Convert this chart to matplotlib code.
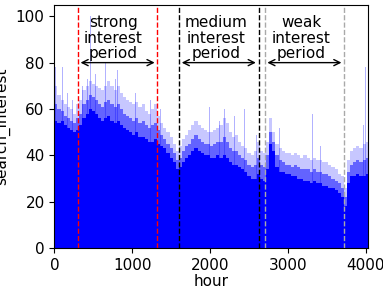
import numpy as np
import matplotlib
matplotlib.use('agg')
from matplotlib import pyplot as plt

# 40-hour bins starting at hour 0
bin_width = 40
peak = [70, 66, 64, 62, 61, 60, 58, 62, 64, 68, 70, 72, 71, 70, 69, 68, 70, 72, 70, 68,
        70, 67, 65, 64, 63, 62, 63, 61, 62, 59, 58, 60, 62, 57, 54, 52, 50, 48, 45, 42,
        44, 47, 49, 51, 53, 55, 53, 52, 51, 50, 50, 51, 52, 53, 56, 54, 50, 48, 49, 46,
        44, 43, 41, 40, 42, 46, 42, 41, 46, 56, 50, 45, 43, 42, 41, 41, 40, 41, 40, 39,
        40, 39, 38, 39, 38, 38, 37, 37, 36, 35, 34, 32, 31, 26, 38, 42, 43, 44, 43, 45, 46]
mid = [62, 60, 59, 57, 56, 55, 54, 56, 58, 62, 64, 66, 65, 64, 62, 61, 63, 64, 62, 61,
       62, 60, 58, 57, 56, 55, 56, 54, 55, 53, 52, 53, 54, 51, 49, 47, 45, 43, 41, 38,
       39, 42, 44, 45, 47, 49, 47, 46, 45, 45, 44, 45, 46, 46, 48, 46, 43, 42, 42, 40,
       39, 38, 36, 35, 36, 39, 36, 35, 40, 50, 46, 40, 38, 37, 36, 36, 35, 36, 35, 34,
       34, 34, 33, 34, 33, 33, 32, 32, 31, 30, 29, 28, 26, 22, 33, 36, 37, 38, 37, 38, 39]
base = [55, 54, 55, 53, 52, 51, 50, 51, 53, 56, 58, 60, 59, 58, 56, 55, 56, 57, 55, 54,
        55, 53, 52, 51, 50, 49, 50, 48, 48, 47, 46, 46, 47, 45, 44, 43, 41, 39, 37, 34,
        35, 37, 39, 40, 42, 43, 42, 41, 40, 40, 39, 39, 40, 39, 40, 39, 37, 36, 36, 35,
        34, 33, 31, 30, 30, 32, 30, 29, 34, 45, 42, 35, 33, 33, 32, 32, 31, 31, 30, 30,
        29, 29, 28, 29, 28, 28, 27, 27, 26, 26, 25, 24, 22, 18, 28, 31, 31, 32, 31, 31, 32]

# single-hour spikes
spike_hour = [17, 103, 167, 231, 360, 424, 467, 531, 660, 702, 788, 810, 895, 972,
              1045, 1100, 1152, 1237, 1367, 1461, 1718, 1795, 1996, 2125, 2189, 2317,
              2446, 2596, 2798, 2893, 3320, 3419, 3526, 3975, 3997]
spike_val = [78, 78, 67, 64, 70, 73, 100, 75, 80, 70, 73, 77, 67, 71,
             67, 79, 67, 64, 60, 60, 53, 76, 61, 55, 60, 57,
             60, 49, 78, 52, 58, 44, 42, 53, 78]

bounds_strong = [300, 1324]
bounds_medium = [1600, 2624]
bounds_weak = [2700, 3724]

plt.rcParams['font.size'] = 11
fig = plt.figure(figsize=(3.83, 2.89), dpi=100)
ax = fig.add_axes([0.142, 0.141, 0.820, 0.843])

x = np.arange(len(peak)) * bin_width
ax.bar(x, peak, width=bin_width, align='edge', color='blue', alpha=0.22, linewidth=0)
ax.bar(x, mid, width=bin_width, align='edge', color='blue', alpha=0.5, linewidth=0)
ax.bar(x, base, width=bin_width, align='edge', color='blue', linewidth=0)
ax.bar(spike_hour, spike_val, width=8, color='blue', alpha=0.3, linewidth=0)

for b, c in [(bounds_strong, 'red'), (bounds_medium, 'black'), (bounds_weak, 'darkgray')]:
    for v in b:
        ax.axvline(v, color=c, ls='--', lw=1)
    ax.annotate('', xy=(b[0], 80), xytext=(b[1], 80),
                arrowprops=dict(arrowstyle='<->', color='black', lw=1))

ax.text(760, 80.5, 'strong\ninterest\nperiod', ha='center', va='bottom', linespacing=1.05)
ax.text(2080, 80.5, 'medium\ninterest\nperiod', ha='center', va='bottom', linespacing=1.05)
ax.text(3170, 80.5, 'weak\ninterest\nperiod', ha='center', va='bottom', linespacing=1.05)

ax.set_xlim(0, 4035)
ax.set_ylim(0, 105)
ax.set_xticks([0, 1000, 2000, 3000, 4000])
ax.set_yticks([0, 20, 40, 60, 80, 100])
ax.set_xlabel('hour', labelpad=1)
ax.set_ylabel('search_interest')
fig.savefig('out.png', dpi=100)
